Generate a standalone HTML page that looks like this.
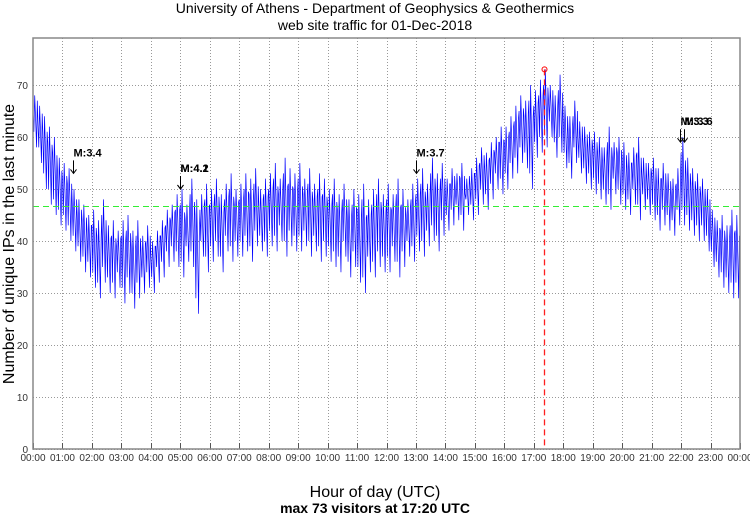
<!DOCTYPE html>
<html><head><meta charset="utf-8"><style>
body{margin:0;background:#fff;width:750px;height:515px;overflow:hidden}
svg{font-family:"Liberation Sans",sans-serif}
</style></head><body>
<svg id="chart" width="750" height="515">
<rect x="0" y="0" width="750" height="515" fill="#fff"/>
<text x="375" y="13" font-size="14" text-anchor="middle">University of Athens - Department of Geophysics &amp; Geothermics</text>
<text x="375" y="30" font-size="14" text-anchor="middle">web site traffic for 01-Dec-2018</text>
<g id="grid"></g><g id="series"></g><g id="marks"></g>
<rect x="33" y="38" width="707" height="411" fill="none" stroke="#888" stroke-width="1.5"/>
<text transform="translate(14,244) rotate(-90)" font-size="16" text-anchor="middle">Number of unique IPs in the last minute</text>
<text x="375" y="497" font-size="16" text-anchor="middle">Hour of day (UTC)</text>
<text x="375" y="513" font-size="14" font-weight="bold" text-anchor="middle">max 73 visitors at 17:20 UTC</text>
</svg>
<script>
const yTicks=[0,10,20,30,40,50,60,70];
const xTickHours=[0,1,2,3,4,5,6,7,8,9,10,11,12,13,14,15,16,17,18,19,20,21,22,23,24];
const binHi=[68,66,64,62,60,56,55,54,50,48,47,45,46,44,48,43,44,42,44,45,42,44,41,43,40,42,44,46,47,49,50,47,52,48,49,51,50,52,49,51,53,50,51,53,52,54,50,52,53,55,52,56,54,53,55,52,54,51,53,52,50,52,49,51,48,50,49,51,48,50,52,49,51,49,52,50,48,51,52,54,51,56,53,55,52,54,53,55,52,54,56,58,57,59,60,62,62,64,66,68,67,70,69,71,73,70,68,72,66,64,67,63,62,61,61,60,58,62,59,60,59,57,58,60,56,55,56,54,55,53,52,54,60,56,54,53,52,50,46,44,45,43,46,45];
const binLo=[58,55,50,47,45,43,42,40,38,36,34,33,31,29,32,30,29,31,28,30,27,29,30,31,30,32,33,35,36,35,33,36,35,26,37,34,36,37,34,38,36,37,37,38,36,39,38,37,39,38,40,37,39,38,38,39,37,38,36,37,36,35,34,37,33,35,32,30,34,33,35,34,34,36,33,35,37,36,38,37,39,40,38,41,42,43,44,42,45,44,45,47,46,48,50,49,50,52,53,55,54,50,56,57,58,60,56,57,54,52,55,53,51,50,49,48,47,46,49,47,46,45,47,44,46,45,44,42,43,42,41,43,43,42,41,40,40,38,35,33,31,30,29,29];
const meanValue=46.8;
const maxValue=73, maxHour=17+20/60;
const events=[{label:"M:3.4",hour:1.35,y:53},{label:"M:4.2",hour:5.0,y:50},{label:"M:4.1",hour:5.0,y:50},{label:"M:3.7",hour:13.0,y:53},{label:"M:3.3",hour:21.98,y:59},{label:"M:3.6",hour:22.1,y:59}];
const X=h=>33+h*707/24, Y=v=>449-v*5.2;
const snap=v=>Math.round(v)+0.5;
const NS="http://www.w3.org/2000/svg";
function mk(p,t,a){const e=document.createElementNS(NS,t);for(const k in a)e.setAttribute(k,a[k]);p.appendChild(e);return e;}
const grid=document.getElementById('grid'),series=document.getElementById('series'),marks=document.getElementById('marks');
yTicks.forEach(v=>{
 const g=mk(grid,'line',{x1:33,x2:740,y1:snap(Y(v)),y2:snap(Y(v)),stroke:'#999','stroke-dasharray':'1,2'});
 
 
 const t=mk(grid,'text',{x:28,y:Y(v)+4,'font-size':10,'text-anchor':'end',fill:'#333'});t.textContent=v;
 
 
});
xTickHours.forEach(h=>{
 if(h>0&&h<24){const g=mk(grid,'line',{x1:snap(X(h)),x2:snap(X(h)),y1:38,y2:449,stroke:'#999','stroke-dasharray':'1,2'});
 
 }
 mk(grid,'line',{x1:snap(X(h)),x2:snap(X(h)),y1:443,y2:449,stroke:'#555'});
 const t=mk(grid,'text',{x:X(h),y:461,'font-size':10,'text-anchor':'middle',fill:'#333'});
 t.textContent=String(h%24).padStart(2,'0')+':00';
 
 
});
let pts=[];
binHi.forEach((hi,i)=>{const lo=binLo[i];const h0=i/6;
 pts.push([X(h0),Y(hi-3)],[X(h0+0.7/24),Y(lo+3)],[X(h0+1.4/24),Y(hi)],[X(h0+2.2/24),Y((hi+lo)/2)],[X(h0+2.9/24),Y(lo)],[X(h0+3.5/24),Y((hi+lo)/2+4)]);});
const line=mk(series,'polyline',{points:pts.map(p=>p.join(',')).join(' '),fill:'none',stroke:'#0000ff','stroke-width':0.7});


const mean=mk(series,'line',{x1:33,x2:740,y1:snap(Y(meanValue)),y2:snap(Y(meanValue)),stroke:'#33ee33','stroke-dasharray':'6,4','stroke-width':1});


const vl=mk(series,'line',{x1:snap(X(maxHour)),x2:snap(X(maxHour)),y1:Y(maxValue),y2:449,stroke:'#ff2020','stroke-dasharray':'6,4','stroke-width':1.3});


const c=mk(series,'circle',{cx:snap(X(maxHour)),cy:Y(maxValue),r:2.5,fill:'none',stroke:'#ff0000'});


events.forEach(e=>{
 const x=snap(X(e.hour)), yb=Y(e.y);
 const t=mk(marks,'text',{x:x,y:yb-17,'font-size':11,'font-weight':'bold'});t.textContent=e.label;
 
 
 const a=mk(marks,'path',{d:`M${x},${yb-13}V${yb} M${x-3},${yb-4}L${x},${yb}L${x+3},${yb-4}`,fill:'none',stroke:'#000','stroke-width':1});
 
 
});
</script>
</body></html>
